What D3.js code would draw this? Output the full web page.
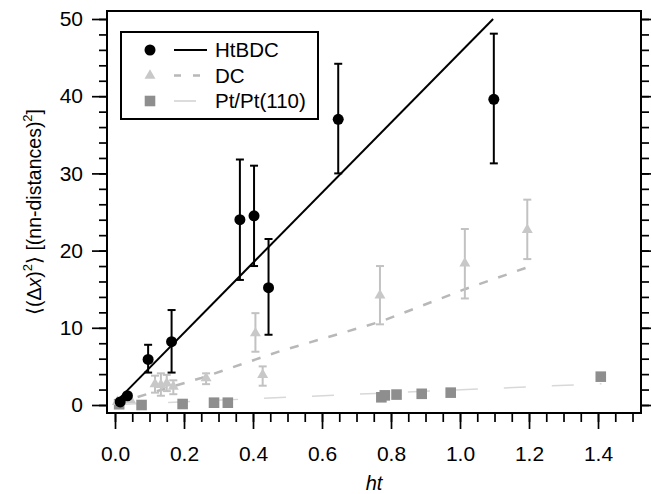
<!DOCTYPE html>
<html>
<head>
<meta charset="utf-8">
<script src="https://cdn.jsdelivr.net/npm/d3@7"></script>
<style>
  body { margin: 0; background: #fff; }
  svg { display: block; font-family: "Liberation Sans", Arial, sans-serif; }
  .axis text { font-size: 21px; fill: #000; }
  .axis line { stroke: #000; stroke-width: 1.7; }
  .axis path.domain { display: none; }
</style>
</head>
<body>
<div id="chart"></div>
<script>
(function() {

// HtBDC (black circles)
const htX  = [0.015, 0.036, 0.096, 0.164, 0.362, 0.403, 0.445, 0.647, 1.098];
const htY  = [0.4, 1.2, 5.9, 8.2, 24.0, 24.5, 15.2, 37.0, 39.6];
const htLo = [null, null, 4.2, 4.2, 16.2, 18.0, 9.1, 30.0, 31.3];
const htHi = [null, null, 7.8, 12.3, 31.8, 31.0, 21.5, 44.2, 48.1];
const htFitX = [0.005, 1.096];
const htFitY = [0.5, 50.0];

// DC (light grey triangles)
const dcX  = [0.007, 0.045, 0.116, 0.133, 0.150, 0.169, 0.264, 0.407, 0.428, 0.768, 1.014, 1.195];
const dcY  = [0.4, 0.65, 2.7, 2.6, 2.8, 2.4, 3.5, 9.3, 3.9, 14.2, 18.35, 22.7];
const dcLo = [null, null, 1.6, 1.2, 1.8, 1.4, 2.7, 6.9, 2.5, 10.45, 13.8, 18.9];
const dcHi = [null, null, 3.8, 4.1, 3.9, 3.2, 4.1, 11.9, 5.0, 18.0, 22.8, 26.6];
const dcFitX = [0.01, 0.25, 0.48, 0.77, 1.014, 1.193];
const dcFitY = [0.3, 3.5, 7.0, 10.8, 15.0, 17.8];

// Pt/Pt(110) (grey squares)
const ptX = [0.012, 0.077, 0.196, 0.287, 0.327, 0.772, 0.782, 0.816, 0.889, 0.973, 1.408];
const ptY = [0.1, 0.0, 0.13, 0.3, 0.3, 1.0, 1.25, 1.35, 1.45, 1.6, 3.67];
const ptFitX = [0.015, 1.41];
const ptFitY = [0.07, 2.76];

const legendLabels = ["HtBDC", "DC", "Pt/Pt(110)"];

const xMajor = [0, 0.2, 0.4, 0.6, 0.8, 1.0, 1.2, 1.4];
const yMajor = [0, 10, 20, 30, 40, 50];

const w = 651;
const h = 494;
const left = 107, right = 641, top = 11, bottom = 413;

const x = d3.scaleLinear().domain([-0.0232, 1.5246]).range([left, right]);
const y = d3.scaleLinear().domain([-1.036, 51.036]).range([bottom, top]);

const svg = d3.select("#chart")
    .append("svg")
    .attr("width", w)
    .attr("height", h);

// axes
const xMinor = d3.range(0, 30.5).map(function(i) { return i * 0.05; });
const yMinor = d3.range(0, 26).map(function(i) { return i * 2; });

svg.append("g").attr("class", "axis")
    .attr("transform", "translate(" + left + ",0)")
    .call(d3.axisLeft(y).tickValues(yMinor).tickSize(8).tickFormat(""));
svg.append("g").attr("class", "axis")
    .attr("transform", "translate(" + left + ",0)")
    .call(d3.axisLeft(y).tickValues(yMajor).tickSize(15).tickPadding(9).tickFormat(d3.format("d")));

svg.append("g").attr("class", "axis")
    .attr("transform", "translate(" + right + ",0)")
    .call(d3.axisRight(y).tickValues(yMinor).tickSize(8).tickFormat(""));
svg.append("g").attr("class", "axis")
    .attr("transform", "translate(" + right + ",0)")
    .call(d3.axisRight(y).tickValues(yMajor).tickSize(15).tickFormat(""));

svg.append("g").attr("class", "axis")
    .attr("transform", "translate(0," + bottom + ")")
    .call(d3.axisBottom(x).tickValues(xMinor).tickSize(9).tickFormat(""));
svg.append("g").attr("class", "axis")
    .attr("transform", "translate(0," + bottom + ")")
    .call(d3.axisBottom(x).tickValues(xMajor).tickSize(16).tickPadding(17).tickFormat(d3.format(".1f")));

svg.append("rect")
    .attr("x", left)
    .attr("y", top)
    .attr("width", right - left)
    .attr("height", bottom - top)
    .attr("fill", "none")
    .attr("stroke", "#000")
    .attr("stroke-width", 2);

// axis titles
svg.append("text")
    .attr("x", (left + right) / 2)
    .attr("y", 490)
    .attr("text-anchor", "middle")
    .attr("font-size", 20)
    .attr("font-style", "italic")
    .text("ht");

const yl = svg.append("text")
    .attr("transform", "translate(41," + ((top + bottom) / 2) + ") rotate(-90)")
    .attr("text-anchor", "middle")
    .attr("font-size", 19.5);
yl.append("tspan").text("\u27E8(\u0394");
yl.append("tspan").attr("font-style", "italic").text("x");
yl.append("tspan").text(")");
yl.append("tspan").attr("dy", -9).attr("font-size", 13).text("2");
yl.append("tspan").attr("dy", 9).text("\u27E9  [(nn-distances)");
yl.append("tspan").attr("dy", -9).attr("font-size", 13).text("2");
yl.append("tspan").attr("dy", 9).text("]");

function zip(xs, ys, lo, hi) {
    return xs.map(function(v, i) {
        return { x: v, y: ys[i], lo: lo ? lo[i] : null, hi: hi ? hi[i] : null };
    });
}

const line = d3.line()
    .x(function(d) { return x(d.x); })
    .y(function(d) { return y(d.y); });

function errorBars(data, colour) {
    const g = svg.append("g")
        .attr("stroke", colour)
        .attr("stroke-width", 2);
    const withErr = data.filter(function(d) { return d.lo !== null; });
    g.selectAll("line.v").data(withErr).enter().append("line")
        .attr("x1", function(d) { return x(d.x); })
        .attr("x2", function(d) { return x(d.x); })
        .attr("y1", function(d) { return y(d.lo); })
        .attr("y2", function(d) { return y(d.hi); });
    g.selectAll("line.lo").data(withErr).enter().append("line")
        .attr("x1", function(d) { return x(d.x) - 4; })
        .attr("x2", function(d) { return x(d.x) + 4; })
        .attr("y1", function(d) { return y(d.lo); })
        .attr("y2", function(d) { return y(d.lo); });
    g.selectAll("line.hi").data(withErr).enter().append("line")
        .attr("x1", function(d) { return x(d.x) - 4; })
        .attr("x2", function(d) { return x(d.x) + 4; })
        .attr("y1", function(d) { return y(d.hi); })
        .attr("y2", function(d) { return y(d.hi); });
}

const ht = zip(htX, htY, htLo, htHi);
const dc = zip(dcX, dcY, dcLo, dcHi);
const pt = zip(ptX, ptY);

const tri = d3.symbol().type(d3.symbolTriangle).size(52);
const sq = d3.symbol().type(d3.symbolSquare).size(112);

// Pt/Pt(110)
svg.append("path")
    .datum(zip(ptFitX, ptFitY))
    .attr("d", line)
    .attr("fill", "none")
    .attr("stroke", "#d8d8d8")
    .attr("stroke-width", 1.5)
    .attr("stroke-dasharray", "22,26");

// DC
svg.append("path")
    .datum(zip(dcFitX, dcFitY))
    .attr("d", line)
    .attr("fill", "none")
    .attr("stroke", "#b8b8b8")
    .attr("stroke-width", 2.5)
    .attr("stroke-dasharray", "9,11");

svg.selectAll("path.sq").data(pt).enter().append("path")
    .attr("class", "sq")
    .attr("d", sq)
    .attr("transform", function(d) { return "translate(" + x(d.x) + "," + y(d.y) + ")"; })
    .attr("fill", "#8e8e8e");

errorBars(dc, "#c2c2c2");
svg.selectAll("path.tri").data(dc).enter().append("path")
    .attr("class", "tri")
    .attr("d", tri)
    .attr("transform", function(d) { return "translate(" + x(d.x) + "," + y(d.y) + ")"; })
    .attr("fill", "#c8c8c8");

// HtBDC
svg.append("path")
    .datum(zip(htFitX, htFitY))
    .attr("d", line)
    .attr("fill", "none")
    .attr("stroke", "#000")
    .attr("stroke-width", 2);

errorBars(ht, "#000");
svg.selectAll("circle.ht").data(ht).enter().append("circle")
    .attr("class", "ht")
    .attr("cx", function(d) { return x(d.x); })
    .attr("cy", function(d) { return y(d.y); })
    .attr("r", 5.5)
    .attr("fill", "#000");

// legend
const lg = svg.append("g").attr("transform", "translate(121,32)");
lg.append("rect")
    .attr("width", 197)
    .attr("height", 87)
    .attr("fill", "#fff")
    .attr("stroke", "#000")
    .attr("stroke-width", 2);

const rows = lg.selectAll("g.row").data(legendLabels).enter().append("g")
    .attr("class", "row")
    .attr("transform", function(d, i) { return "translate(0," + (18 + i * 25.5) + ")"; });

rows.append("line")
    .attr("x1", 53).attr("x2", 86)
    .attr("stroke", function(d, i) { return ["#000", "#b8b8b8", "#d0d0d0"][i]; })
    .attr("stroke-width", function(d, i) { return [2, 2.5, 1.5][i]; })
    .attr("stroke-dasharray", function(d, i) { return [null, "7,12", "22,26"][i]; });

rows.append("text")
    .attr("x", 94)
    .attr("dy", "0.36em")
    .attr("font-size", 20.5)
    .text(function(d) { return d; });

rows.filter(function(d, i) { return i === 0; }).append("circle")
    .attr("cx", 29).attr("r", 5.5).attr("fill", "#000");
rows.filter(function(d, i) { return i === 1; }).append("path")
    .attr("d", tri).attr("transform", "translate(29,0)").attr("fill", "#c8c8c8");
rows.filter(function(d, i) { return i === 2; }).append("path")
    .attr("d", sq).attr("transform", "translate(29,0)").attr("fill", "#8e8e8e");

})();
</script>
</body>
</html>
